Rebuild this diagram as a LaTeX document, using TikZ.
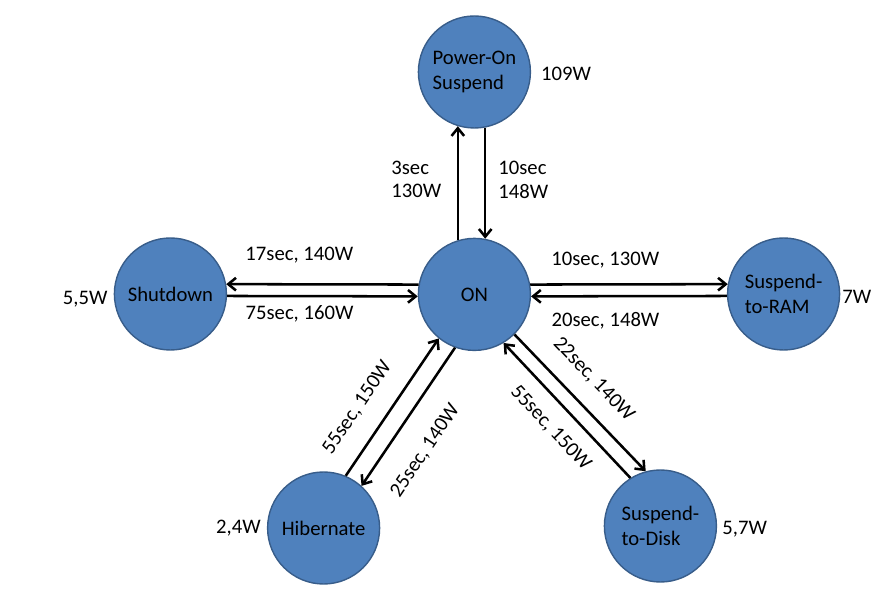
\documentclass[tikz,border=0pt]{standalone}
\usepackage{fontspec}
\setmainfont{Carlito}
\usetikzlibrary{arrows.meta,positioning}
\tikzset{>={Straight Barb[length=5.5pt,width=9pt]}}
\definecolor{stateblue}{HTML}{4F81BD}
\definecolor{stateedge}{HTML}{385D8A}
\tikzstyle{state}=[circle,draw=stateedge,fill=stateblue,line width=1pt,minimum size=2.8cm,inner sep=0,align=left]
\tikzstyle{trans}=[->,line width=1.8pt]
\tikzstyle{info}=[inner sep=0]

\begin{document}
\begin{tikzpicture}[font=\fontsize{14.7}{17.9}\selectfont]
    \useasboundingbox (0,0) rectangle (22.2,15.1);

    % states
    \node[state] (pos)  at (11.86,13.30) {Power-On\\Suspend};
    \node[state] (on)   at (11.86,7.74)  {ON};
    \node[state] (shut) at (4.26,7.75)   {Shutdown};
    \node[state] (ram)  at (19.59,7.75)  {Suspend-\\to-RAM};
    \node[state] (hib)  at (8.09,1.90)   {Hibernate};
    \node[state] (disk) at (16.51,1.95)  {Suspend-\\to-Disk};

    % power in each state
    \node[info,right=7pt of pos,yshift=-1.5pt] (w-pos) {109W};
    \node[info,left=4.3pt of shut,yshift=-4pt] (w-shut) {5,5W};
    \node[info,right=1.3pt of ram,yshift=-2pt] (w-ram) {7W};
    \node[info,left=4.2pt of hib] (w-hib) {2,4W};
    \node[info,right=3.6pt of disk,yshift=-2pt] (w-disk) {5,7W};

    % transitions
    \draw[trans] (on.107) -- node[info,left=10.9pt,pos=.53,align=left,font=\fontsize{14.7}{16.4}\selectfont] (t-on-pos) {3sec\\130W} (pos.253);
    \draw[trans] (pos.281) -- node[info,right=8.5pt,pos=.47,align=left,font=\fontsize{14.7}{16.4}\selectfont] (t-pos-on) {10sec\\148W} (on.79);

    \draw[trans] (on.170) -- node[info,above=14.3pt,pos=.62] (t-on-shut) {17sec, 140W} (shut.10);
    \draw[trans] (shut.358) -- node[info,below=5.6pt,pos=.38] (t-shut-on) {75sec, 160W} (on.182);
    \draw[trans] (on.10) -- node[info,above=10.7pt,pos=.38] (t-on-ram) {10sec, 130W} (ram.170);
    \draw[trans] (ram.182) -- node[info,below=10.9pt,pos=.62] (t-ram-on) {20sec, 148W} (on.358);

    \draw[trans] (hib.67) -- node[info,sloped,above=13.8pt,pos=.38] (t-hib-on) {55sec, 150W} (on.231);
    \draw[trans] (on.250) -- node[info,sloped,below=16.8pt,pos=.61] (t-on-hib) {25sec, 140W} (hib.48);
    \draw[trans] (on.315) -- node[info,sloped,above=12pt,pos=.46] (t-on-disk) {22sec, 140W} (disk.105);
    \draw[trans] (disk.122) -- node[info,sloped,below=10.5pt,pos=.49] (t-disk-on) {55sec, 150W} (on.301);

\end{tikzpicture}
\end{document}
